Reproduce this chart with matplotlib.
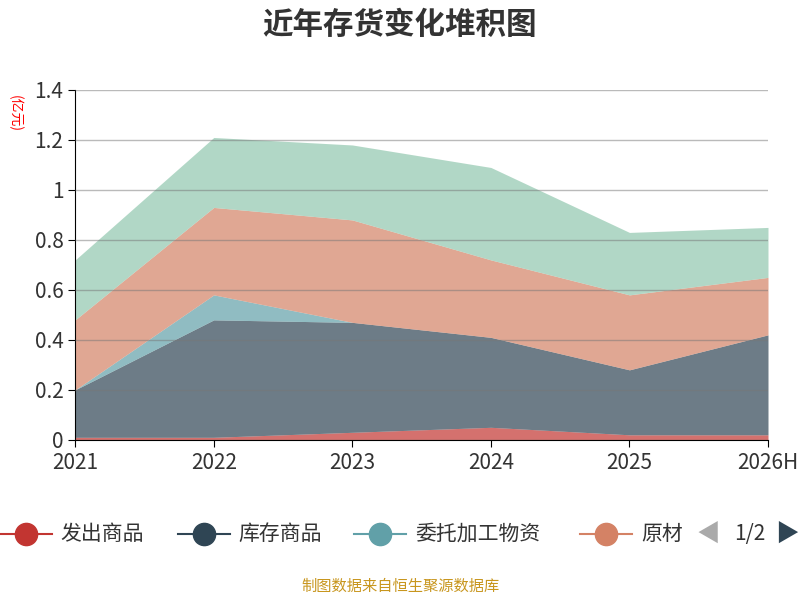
import matplotlib
matplotlib.use("Agg")
import matplotlib.pyplot as plt
from matplotlib.lines import Line2D
import numpy as np

plt.rcParams['font.family'] = ['Noto Sans CJK SC', 'DejaVu Sans']

years = ["2021", "2022", "2023", "2024", "2025", "2026H"]
fachu = [0.01, 0.01, 0.03, 0.05, 0.02, 0.02]
kucun = [0.19, 0.47, 0.44, 0.36, 0.26, 0.40]
weituo = [0.0, 0.10, 0.0, 0.0, 0.0, 0.0]
yuancai = [0.28, 0.35, 0.41, 0.31, 0.30, 0.23]
zaichan = [0.24, 0.28, 0.30, 0.37, 0.25, 0.20]

names = ["发出商品", "库存商品", "委托加工物资", "原材料", "在产品"]
colors = ["#c23531", "#2f4554", "#61a0a8", "#d48265", "#91c7ae"]
series = [fachu, kucun, weituo, yuancai, zaichan]

fig = plt.figure(figsize=(8, 6), dpi=100)
ax = fig.add_axes([0.094, 0.267, 0.866, 0.583])
x = np.arange(len(years))
base = np.zeros(len(years))
for vals, c in zip(series, colors):
    top = base + np.array(vals)
    ax.fill_between(x, base, top, color=c, alpha=0.7, lw=0)
    base = top

ax.set_xlim(0, len(years) - 1)
ax.set_ylim(0, 1.4)
ax.set_xticks(x)
ax.set_xticklabels(years, fontsize=15, color="#333")
ax.set_yticks([0, 0.2, 0.4, 0.6, 0.8, 1.0, 1.2, 1.4])
ax.set_yticklabels(["0", "0.2", "0.4", "0.6", "0.8", "1", "1.2", "1.4"], fontsize=15, color="#333")
ax.yaxis.grid(True, color="#777", lw=1, alpha=0.5)
ax.set_axisbelow(False)
for s in ["top", "right"]:
    ax.spines[s].set_visible(False)
ax.tick_params(direction="out", length=5)
fig.text(0.018, 0.81, "(亿元)", color="red", fontsize=10, rotation=270, ha="center", va="center")

fig.suptitle("近年存货变化堆积图", fontsize=22, fontweight="bold", color="#333", y=0.985)

# legend (first page)
ly = 0.11
items = [(0.0, "发出商品"), (0.222, "库存商品"), (0.443, "委托加工物资"), (0.725, "原材")]
for (lx, name), c in zip(items, colors):
    fig.add_artist(Line2D([lx, lx + 0.065], [ly, ly], color=c, lw=1.5, transform=fig.transFigure))
    fig.add_artist(Line2D([lx + 0.0325], [ly], marker="o", ms=16, color=c, transform=fig.transFigure))
    fig.text(lx + 0.076, ly, name, fontsize=15, color="#333", va="center")
fig.text(0.885, ly, "◀", fontsize=17, color="#aaa", va="center", ha="center")
fig.text(0.937, ly, "1/2", fontsize=15, color="#333", va="center", ha="center")
fig.text(0.984, ly, "▶", fontsize=17, color="#2f4554", va="center", ha="center")

fig.text(0.5, 0.015, "制图数据来自恒生聚源数据库", fontsize=11, color="#c8961e", ha="center")
fig.savefig("out.png", dpi=100)
